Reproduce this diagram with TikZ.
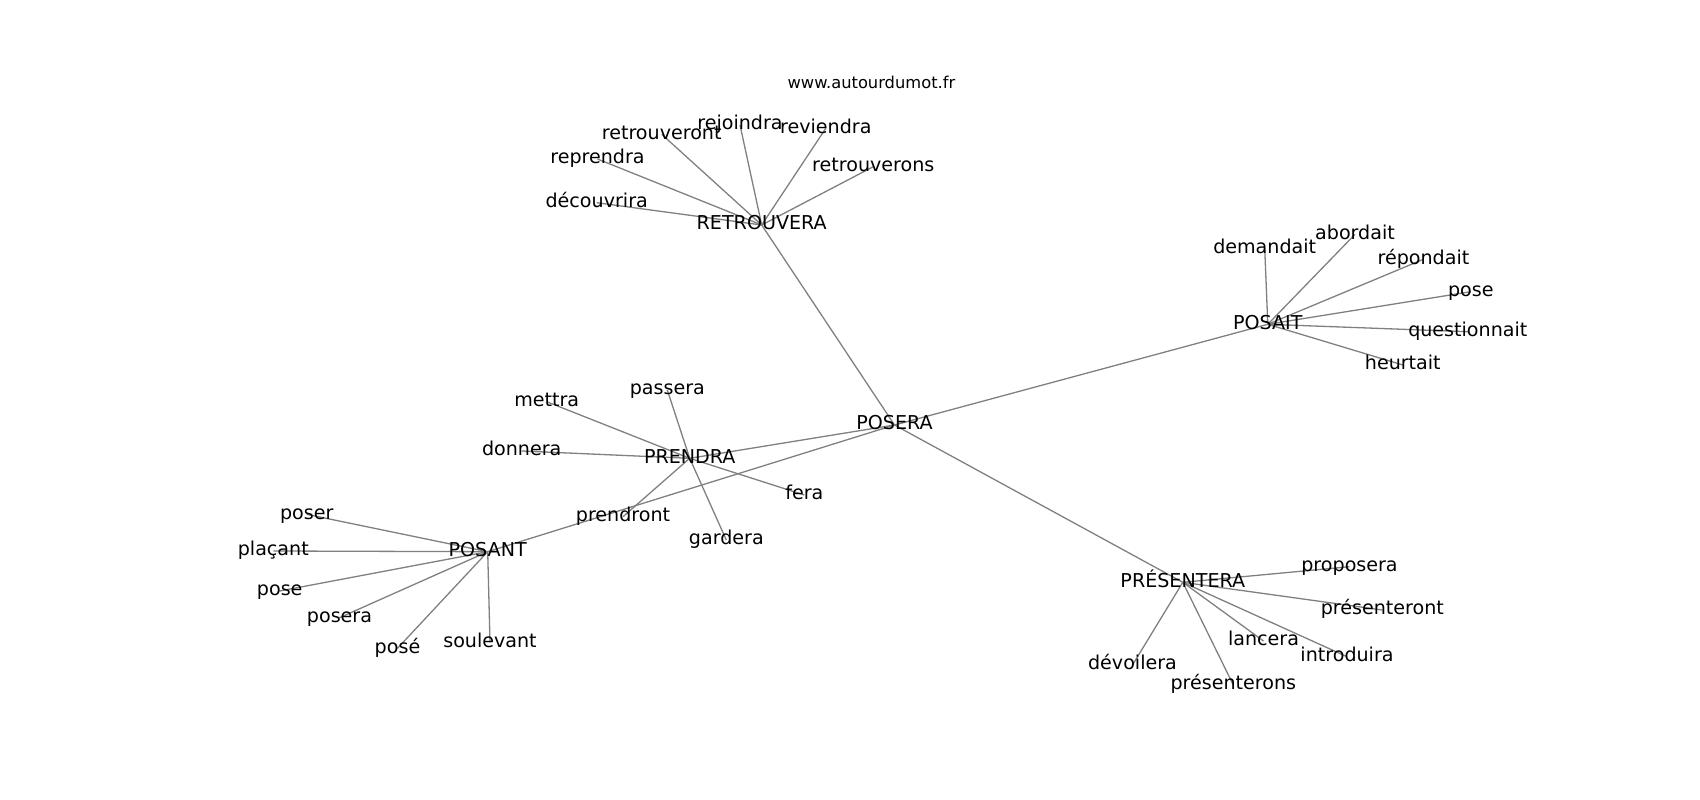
\documentclass[tikz,border=0pt]{standalone}
\usepackage{fontspec}
\setmainfont{DejaVu Sans}
\usetikzlibrary{backgrounds}
\tikzstyle{word}=[inner sep=0pt,text height=14.5pt,text depth=4.6pt,font=\fontsize{19.1}{23}\selectfont]
\tikzstyle{site}=[word,text height=12.4pt,text depth=3.9pt,font=\fontsize{16.3}{20}\selectfont]
\tikzstyle{link}=[draw=gray,line width=1.3pt]

\begin{document}
\begin{tikzpicture}[x=1pt,y=-1pt]
\useasboundingbox (0,0) rectangle (1700,800);
\node[site] (site) at (871.4,84.1) {www.autourdumot.fr};

% centre
\node[word] (POSERA) at (894.5,425) {POSERA};

% retrouvera
\node[word] (RETROUVERA) at (761.7,225) {RETROUVERA};
\node[word] (retrouveront) at (661.7,134.3) {retrouveront};
\node[word] (rejoindra) at (740,125) {rejoindra};
\node[word] (reviendra) at (825.8,128.3) {reviendra};
\node[word] (reprendra) at (597.5,159) {reprendra};
\node[word] (retrouverons) at (873.3,166.7) {retrouverons};
\node[word] (decouvrira) at (596.7,202.7) {découvrira};

% prendra
\node[word] (PRENDRA) at (689.7,458.3) {PRENDRA};
\node[word] (mettra) at (546.7,401.7) {mettra};
\node[word] (passera) at (667.3,390) {passera};
\node[word] (donnera) at (521.7,451) {donnera};
\node[word] (fera) at (804.3,495) {fera};
\node[word] (gardera) at (726.3,540) {gardera};
\node[word] (prendront) at (623,516.7) {prendront};

% posant
\node[word] (POSANT) at (487.7,551.7) {POSANT};
\node[word] (poser) at (306.7,514.3) {poser};
\node[word] (placant) at (273.3,551) {plaçant};
\node[word] (pose-b) at (279.7,591) {pose};
\node[word] (posera) at (339.5,617.7) {posera};
\node[word] (pose-acc) at (397.5,648.3) {posé};
\node[word] (soulevant) at (490,642.3) {soulevant};

% posait
\node[word] (POSAIT) at (1267.8,324.3) {POSAIT};
\node[word] (demandait) at (1264.7,248.3) {demandait};
\node[word] (abordait) at (1355,234.3) {abordait};
\node[word] (repondait) at (1423.4,259.3) {répondait};
\node[word] (pose-a) at (1470.8,291.7) {pose};
\node[word] (questionnait) at (1467.8,331.7) {questionnait};
\node[word] (heurtait) at (1402.8,365) {heurtait};

% presentera
\node[word] (PRESENTERA) at (1182.8,582.3) {PRÉSENTERA};
\node[word] (proposera) at (1349.5,566.7) {proposera};
\node[word] (presenteront) at (1382.3,610) {présenteront};
\node[word] (introduira) at (1347,656.7) {introduira};
\node[word] (lancera) at (1263.5,641) {lancera};
\node[word] (devoilera) at (1132.5,665) {dévoilera};
\node[word] (presenterons) at (1233.3,685) {présenterons};

\begin{scope}[on background layer]
\foreach \h in {RETROUVERA,PRENDRA,POSANT,POSAIT,PRESENTERA}
  \draw[link] (POSERA.center) -- (\h.center);
\foreach \w in {retrouveront,rejoindra,reviendra,reprendra,retrouverons,decouvrira}
  \draw[link] (RETROUVERA.center) -- (\w.center);
\foreach \w in {mettra,passera,donnera,fera,gardera,prendront}
  \draw[link] (PRENDRA.center) -- (\w.center);
\foreach \w in {poser,placant,pose-b,posera,pose-acc,soulevant}
  \draw[link] (POSANT.center) -- (\w.center);
\foreach \w in {demandait,abordait,repondait,pose-a,questionnait,heurtait}
  \draw[link] (POSAIT.center) -- (\w.center);
\foreach \w in {proposera,presenteront,introduira,lancera,devoilera,presenterons}
  \draw[link] (PRESENTERA.center) -- (\w.center);
\end{scope}
\end{tikzpicture}
\end{document}
